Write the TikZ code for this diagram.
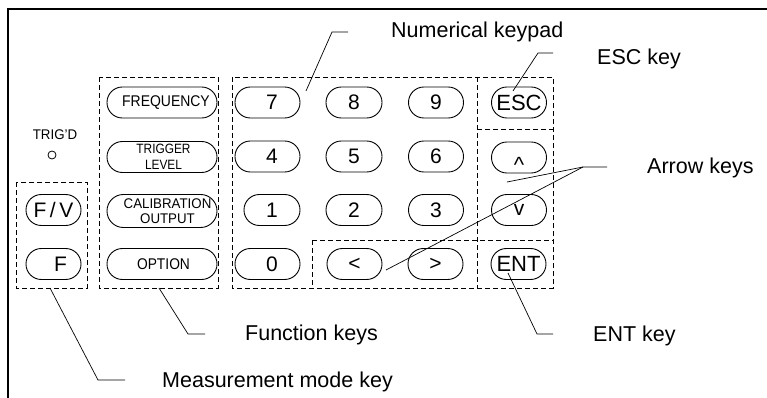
\documentclass[tikz,border=0pt]{standalone}
\usepackage{fontspec}
\setmainfont{Liberation Sans}
\newcommand\myfs[2]{\fontsize{#1}{#2}\selectfont}
\newcommand\sh[1]{\hspace*{#1}}
\newcommand\cx[2]{\scalebox{#1}[1]{#2}}
\begin{document}
\begin{tikzpicture}[x=1pt,y=-1pt,
  key/.style={draw, line width=0.9pt, rounded corners=15.4pt, minimum height=31pt,
    inner sep=0pt, font=\myfs{21}{23}},
  fkey/.style={key, minimum width=110pt},
  ktext/.style={inner sep=0pt, align=center},
  dbox/.style={draw, dashed, dash pattern=on 5pt off 3pt, line width=0.8pt},
  lead/.style={draw, line width=0.7pt},
  lbl/.style={anchor=base west, inner sep=0pt, font=\myfs{21.5}{24}}]
\useasboundingbox (0,0) rectangle (767,398);
% frame
\draw[line width=2pt] (7.5,398) -- (7.5,9.5) -- (767,9.5);
% dashed groups
\draw[dbox] (16,182) rectangle (87,288);
\draw[dbox] (99,77) rectangle (218,288);
\draw[dbox] (232,77) rectangle (553,288);
\draw[dbox] (477,77) -- (477,288);
\draw[dbox] (477,129) -- (553,129);
\draw[dbox] (312,240) -- (553,240);
\draw[dbox] (312,240) -- (312,288);
% TRIG'D
\node[inner sep=0pt, anchor=base, font=\myfs{14}{16}] (trig) at (55,140) {\cx{0.95}{TRIG'D}};
\node[draw, circle, line width=0.8pt, minimum size=8pt, inner sep=0pt] (led) at (52,155) {};
% measurement keys
\node[key, minimum width=55pt] (kfv) at (53.5,210) {F\,/\,V};
\node[key, minimum width=55pt] (kf) at (53.5,264) {\sh{14pt}F};
% function keys
\node[fkey] (kfreq) at (162,102.5) {};
\node[ktext, font=\myfs{15.5}{17}] (tfreq) at (166,102.5) {\cx{0.9}{FREQUENCY}};
\node[fkey] (ktrig) at (162,157) {};
\node[ktext, font=\myfs{13.5}{15.5}] (ttrig) at (163.5,157) {\cx{0.88}{TRIGGER}\\\cx{0.88}{LEVEL}};
\node[fkey, minimum height=33pt, rounded corners=16.4pt] (kcal) at (162,211) {};
\node[ktext, font=\myfs{14}{15}] (tcal) at (167.5,211) {\cx{0.95}{CALIBRATION}\\\cx{0.95}{OUTPUT}};
\node[fkey] (kopt) at (162,264) {};
\node[ktext, font=\myfs{15.5}{17}] (topt) at (163.5,264) {\cx{0.89}{OPTION}};
% numerical keypad
\node[key, minimum width=65pt] (k7) at (267.5,102.5) {\sh{9pt}7};
\node[key, minimum width=56pt] (k8) at (354,102.5) {8};
\node[key, minimum width=55pt] (k9) at (436,102.5) {9};
\node[key, minimum width=65pt] (k4) at (267.5,156.5) {\sh{9pt}4};
\node[key, minimum width=56pt] (k5) at (354,156.5) {5};
\node[key, minimum width=55pt] (k6) at (436,156.5) {6};
\node[key, minimum width=56pt] (k1) at (272,210) {1};
\node[key, minimum width=56pt] (k2) at (354,210) {2};
\node[key, minimum width=55pt] (k3) at (436,210) {3};
\node[key, minimum width=65pt] (k0) at (267.5,264) {\sh{9pt}0};
\node[key, minimum width=55pt] (kl) at (354.5,264) {<};
\node[key, minimum width=55pt] (kr) at (435.5,264) {>};
% right column
\node[key, minimum width=55pt, font=\myfs{22}{24}] (kesc) at (519,102.5) {ESC};
\node[key, minimum width=55pt] (kup) at (519,157.5) {};
\node[inner sep=0pt, anchor=base, font=\myfs{22}{24}] (tup) at (519,172) {\textasciicircum};
\node[key, minimum width=55pt] (kdn) at (519,210) {v};
\node[key, minimum width=55pt, font=\myfs{22}{24}] (kent) at (518.5,264) {ENT};
% labels
\node[lbl] (lnum) at (391,38) {Numerical keypad};
\node[lbl] (lesc) at (597,65) {ESC key};
\node[lbl] (larr) at (647,173) {Arrow keys};
\node[lbl] (lent) at (593,341) {ENT key};
\node[lbl] (lfun) at (245,340) {Function keys};
\node[lbl] (lmea) at (162,387) {Measurement mode key};
% leader coordinates
\coordinate (n1) at (306,91);  \coordinate (n2) at (332,32);  \coordinate (n3) at (348,32);
\coordinate (e1) at (513,91);  \coordinate (e2) at (538,53);  \coordinate (e3) at (553,53);
\coordinate (a1) at (507,182); \coordinate (a2) at (386,270); \coordinate (a3) at (583,167); \coordinate (a4) at (607,167);
\coordinate (t1) at (508,273); \coordinate (t2) at (537,334); \coordinate (t3) at (553,334);
\coordinate (f1) at (159,288); \coordinate (f2) at (188,334); \coordinate (f3) at (205,334);
\coordinate (m1) at (50,288);  \coordinate (m2) at (98,380);  \coordinate (m3) at (125,380);
\draw[lead] (n1) -- (n2) -- (n3);
\draw[lead] (e1) -- (e2) -- (e3);
\draw[lead] (a1) -- (a3) -- (a4);
\draw[lead] (a2) -- (a3);
\draw[lead] (t1) -- (t2) -- (t3);
\draw[lead] (f1) -- (f2) -- (f3);
\draw[lead] (m1) -- (m2) -- (m3);
\end{tikzpicture}
\end{document}
